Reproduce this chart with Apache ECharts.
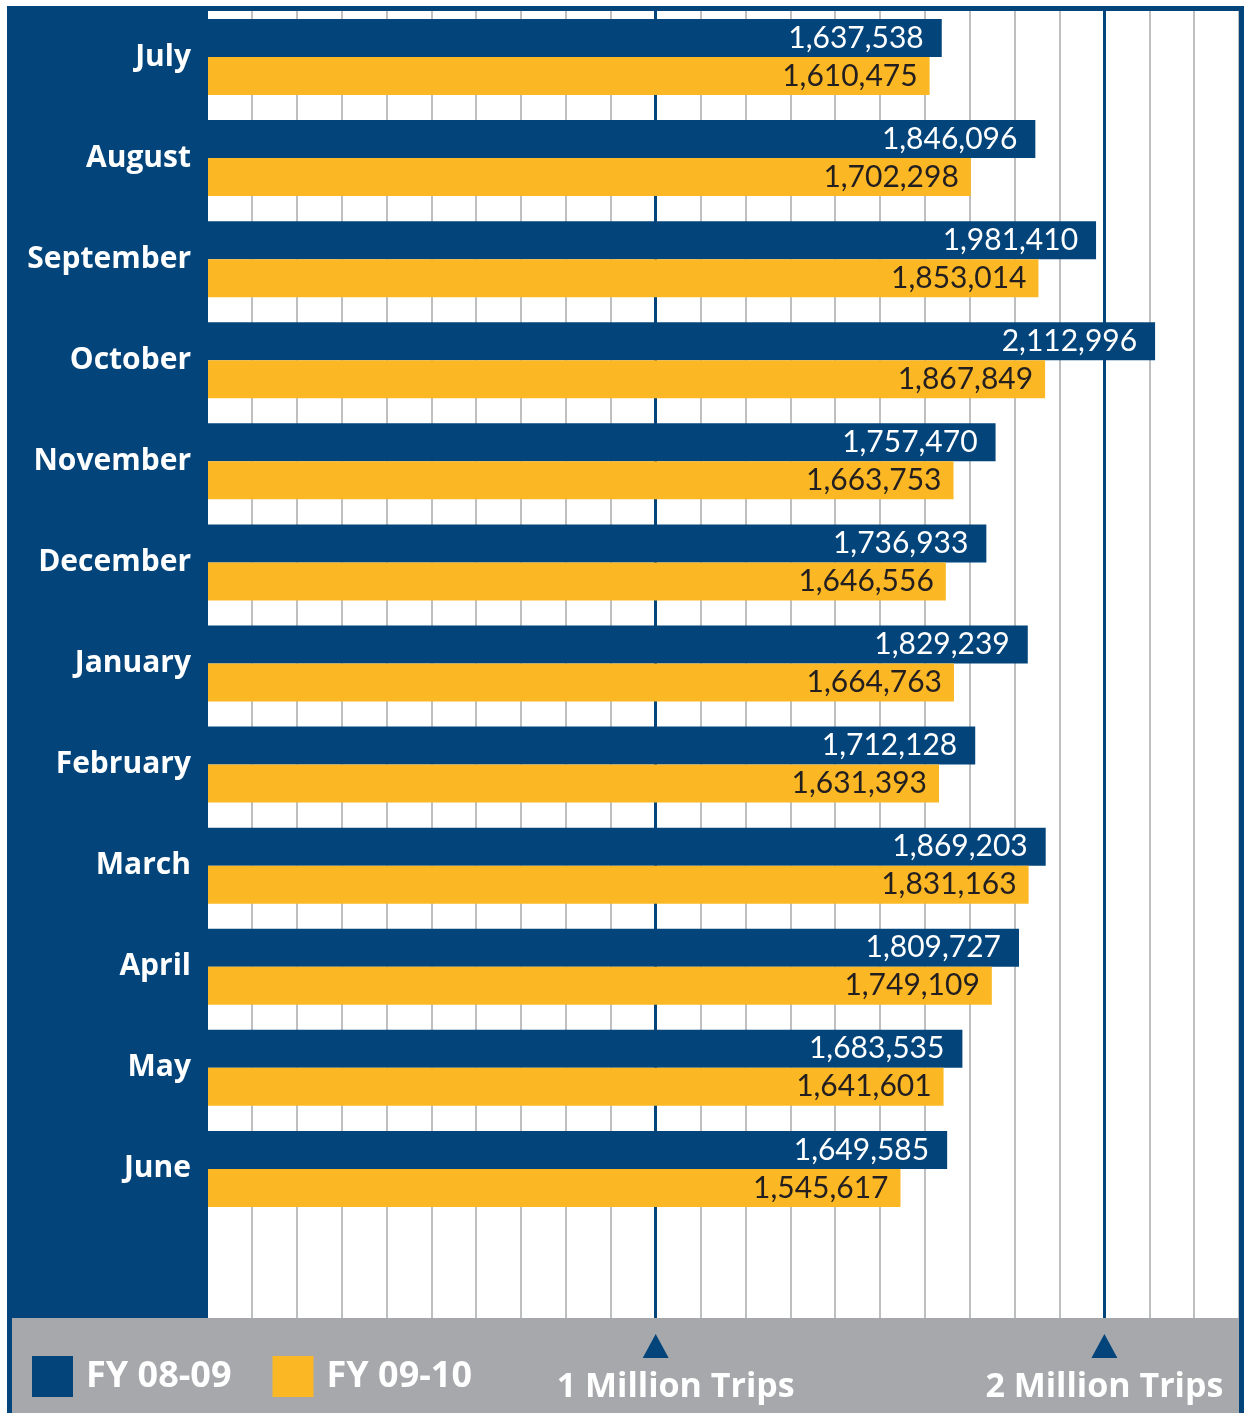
<!DOCTYPE html>
<html>
<head>
<meta charset="utf-8">
<title>Monthly Trips FY 08-09 vs FY 09-10</title>
<script src="https://cdn.jsdelivr.net/npm/echarts@6/dist/echarts.min.js"></script>
<style>
  html, body { margin: 0; padding: 0; background: #fff; }
  #chart { width: 1244px; height: 1413px; }
</style>
</head>
<body>
<div id="chart"></div>
<script>
const months = ['July', 'August', 'September', 'October', 'November', 'December',
  'January', 'February', 'March', 'April', 'May', 'June']
const fy0809 = [1637538, 1846096, 1981410, 2112996, 1757470, 1736933,
  1829239, 1712128, 1869203, 1809727, 1683535, 1649585]
const fy0910 = [1610475, 1702298, 1853014, 1867849, 1663753, 1646556,
  1664763, 1631393, 1831163, 1749109, 1641601, 1545617]
const milestones = [1000000, 2000000]
const milestoneLabels = ['1 Million Trips', '2 Million Trips']

const blue = '#03457b'
const yellow = '#fbb824'
const grey = '#a7a8ac'
const boldFont = 'Open Sans'
const numFont = 'Lato'

let myChart = echarts.init(document.getElementById('chart'))

myChart.setOption({
  animation: false,
  backgroundColor: '#fff',
  grid: {
    left: 207,
    right: 5,
    top: 6.5,
    height: 1314,
    show: true,
    backgroundColor: '#fff',
    borderWidth: 0,
  },
  legend: {
    left: 32,
    top: 1356,
    z: 10,
    padding: 0,
    icon: 'rect',
    itemWidth: 41,
    itemHeight: 41,
    itemGap: 41,
    selectedMode: false,
    textStyle: {
      color: '#fff',
      fontSize: 36,
      fontWeight: 'bold',
      fontFamily: boldFont,
      padding: [0, 0, 0, 8],
    },
    data: ['FY 08-09', 'FY 09-10'],
  },
  xAxis: [
    {
      type: 'value',
      min: 0,
      max: 2300000,
      interval: 100000,
      axisLine: { show: false },
      axisTick: { show: false },
      axisLabel: { show: false },
      splitLine: {
        show: true,
        lineStyle: { color: '#a9aaad', width: 1.5 },
      },
    },
    {
      type: 'value',
      min: 0,
      max: 2300000,
      interval: 100000,
      position: 'bottom',
      z: 10,
      axisLine: { show: false },
      axisTick: { show: false },
      splitLine: { show: false },
      axisLabel: {
        show: true,
        margin: 50,
        color: '#fff',
        fontSize: 34,
        fontWeight: 'bold',
        fontFamily: boldFont,
        formatter: function (v) {
          let i = milestones.indexOf(v)
          if (i < 0) return ''
          return i === 0 ? '{off|' + milestoneLabels[i] + '}' : milestoneLabels[i]
        },
        rich: {
          off: {
            color: '#fff',
            fontSize: 34,
            fontWeight: 'bold',
            fontFamily: boldFont,
            padding: [0, 0, 0, 40],
          },
        },
      },
    },
  ],
  yAxis: {
    type: 'category',
    inverse: true,
    data: months.concat(['']),
    axisLine: { show: false },
    axisTick: { show: false },
    splitLine: { show: false },
    axisLabel: {
      margin: 16,
      color: '#fff',
      fontSize: 30,
      fontWeight: 'bold',
      fontFamily: boldFont,
    },
  },
  series: [
    {
      name: 'FY 08-09',
      type: 'bar',
      data: fy0809,
      barWidth: 38,
      barGap: '0%',
      itemStyle: { color: blue },
      silent: true,
      label: {
        show: true,
        position: 'insideRight',
        distance: 18,
        color: '#fff',
        fontSize: 30,
        fontFamily: numFont,
        formatter: (p) => p.value.toLocaleString('en-US'),
      },
      markLine: {
        silent: true,
        z: 1,
        symbol: 'none',
        label: { show: false },
        lineStyle: { color: blue, width: 3, type: 'solid' },
        data: milestones.map((v) => ({ xAxis: v })),
      },
    },
    {
      name: 'FY 09-10',
      type: 'bar',
      data: fy0910,
      barWidth: 38,
      barGap: '0%',
      itemStyle: { color: yellow },
      silent: true,
      label: {
        show: true,
        position: 'insideRight',
        distance: 12,
        color: '#231f20',
        fontSize: 30,
        fontFamily: numFont,
        formatter: (p) => p.value.toLocaleString('en-US'),
      },
    },
  ],
})

// frame, legend band and the milestone arrows
let arrows = milestones.map((v) => {
  let x = myChart.convertToPixel({ xAxisIndex: 0 }, v)
  return {
    type: 'polygon',
    z: 6,
    shape: { points: [[x, 1334], [x - 13, 1358], [x + 13, 1358]] },
    style: { fill: blue },
  }
})

myChart.setOption({
  graphic: {
    elements: [
      { type: 'rect', z: -1, shape: { x: 7, y: 6, width: 1237, height: 1407 }, style: { fill: blue } },
      { type: 'rect', z: 5, shape: { x: 200, y: 6, width: 1044, height: 5 }, style: { fill: blue } },
      { type: 'rect', z: 5, shape: { x: 200, y: 6, width: 8, height: 1312 }, style: { fill: blue } },
      { type: 'rect', z: 5, shape: { x: 1239, y: 6, width: 5, height: 1407 }, style: { fill: blue } },
      { type: 'rect', z: 5, shape: { x: 12, y: 1318, width: 1227, height: 95 }, style: { fill: grey } },
    ].concat(arrows),
  },
})
</script>
</body>
</html>
